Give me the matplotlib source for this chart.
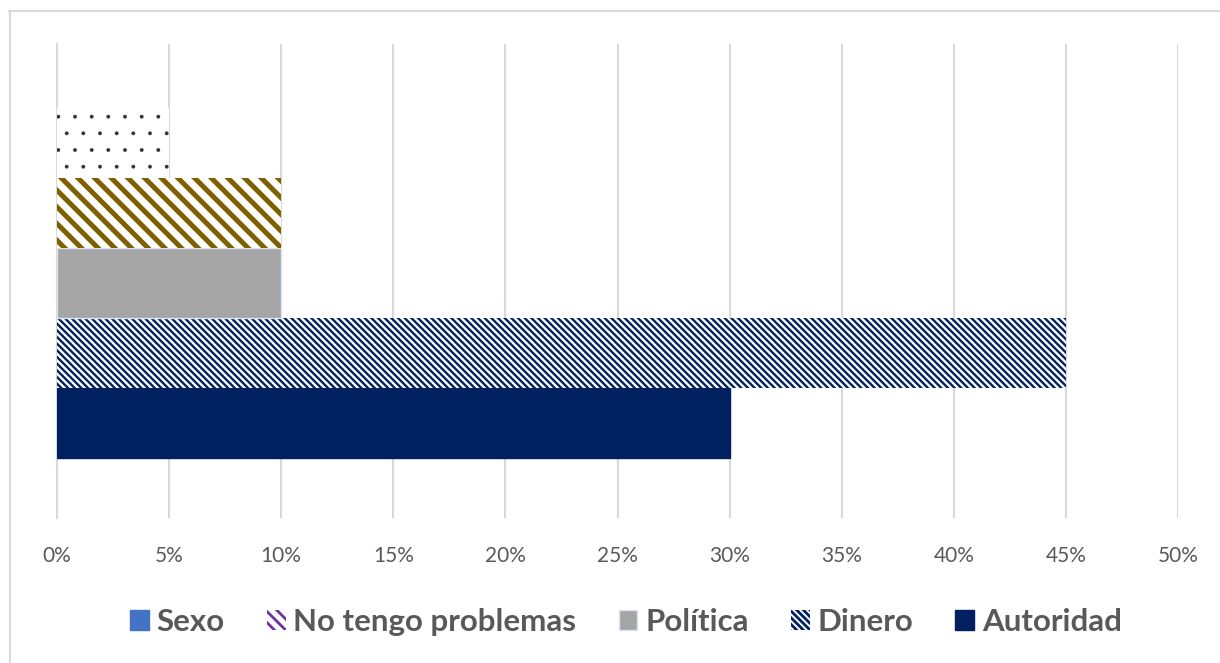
import matplotlib
matplotlib.use("Agg")
import matplotlib.pyplot as plt
from matplotlib.patches import Patch
from matplotlib.lines import Line2D
from matplotlib.ticker import FuncFormatter

# ---- data ----
series = ["Autoridad", "Dinero", "Política", "No tengo problemas", "Sexo"]  # bottom -> top
values = [0.30, 0.45, 0.10, 0.10, 0.05]
legend_order = ["Sexo", "No tengo problemas", "Política", "Dinero", "Autoridad"]
xticks = [0, 0.05, 0.10, 0.15, 0.20, 0.25, 0.30, 0.35, 0.40, 0.45, 0.50]

# ---- styles ----
bar_style = {
    "Autoridad": dict(facecolor="#002060", edgecolor="#002060", hatch=None, hlw=None),
    "Dinero": dict(facecolor="white", edgecolor="#002060", hatch="\\" * 5, hlw=1.7),
    "Política": dict(facecolor="#A5A5A5", edgecolor="#DAE3F3", hatch=None, hlw=None),
    "No tengo problemas": dict(facecolor="white", edgecolor="#7F6000", hatch="\\" * 2, hlw=3.6),
    "Sexo": dict(facecolor="white", edgecolor="#303030", hatch=".", hlw=0.3),
}

fig = plt.figure(figsize=(12.2, 6.63), dpi=100)
ax = fig.add_axes([57 / 1220, 1 - 518 / 663, (1178 - 57) / 1220, (518 - 44) / 663])

for i, (name, v) in enumerate(zip(series, values)):
    st = bar_style[name]
    if st["hatch"]:
        plt.rcParams["hatch.linewidth"] = st["hlw"]
    b = ax.barh(i, v, height=1.0, align="edge", color=st["facecolor"],
                edgecolor=st["edgecolor"],
                linewidth=0 if st["hatch"] else 1.0, hatch=st["hatch"], zorder=3)
    for p in b:
        if st["hatch"]:
            try:
                p.set_hatch_linewidth(st["hlw"])
            except Exception:
                pass

ax.set_xlim(0, 0.5)
ax.set_ylim(-60 / 70, (518 - 44 - 60) / 70)
ax.set_xticks(xticks)
ax.xaxis.set_major_formatter(FuncFormatter(lambda x, p: f"{x*100:.0f}%"))
ax.set_yticks([])
ax.grid(axis="x", color="#D9D9D9", linewidth=1.5, zorder=0)
ax.set_axisbelow(True)
for s in ["top", "right", "bottom"]:
    ax.spines[s].set_visible(False)
ax.spines["left"].set_color("#D9D9D9")
ax.spines["left"].set_linewidth(1.5)
ax.tick_params(axis="x", length=0, pad=20, labelsize=15, labelcolor="#595959")
for lbl in ax.get_xticklabels():
    lbl.set_fontfamily("Lato")

# legend
plt.rcParams["hatch.linewidth"] = 2.0
handles = {
    "Sexo": Patch(facecolor="#4472C4", edgecolor="#4472C4"),
    "No tengo problemas": Patch(facecolor="white", edgecolor="#7030A0", hatch="\\" * 3, linewidth=0),
    "Política": Patch(facecolor="#A5A5A5", edgecolor="#DAE3F3", linewidth=1.0),
    "Dinero": Patch(facecolor="white", edgecolor="#002060", hatch="\\" * 5, linewidth=0),
    "Autoridad": Patch(facecolor="#002060", edgecolor="#002060"),
}
leg = fig.legend([handles[n] for n in legend_order], legend_order, loc="center",
                 bbox_to_anchor=(0.513, 1 - 622 / 663), ncol=5, frameon=False,
                 prop={"family": "Lato", "weight": "bold", "size": 22.5},
                 handlelength=0.6, handleheight=0.6, handletextpad=0.25, columnspacing=1.35)
for t in leg.get_texts():
    t.set_color("#595959")

# outer frame lines (top & left)
fig.add_artist(Line2D([9 / 1220, 1.0], [1 - 11 / 663, 1 - 11 / 663], color="#D9D9D9", lw=1.5,
                      transform=fig.transFigure))
fig.add_artist(Line2D([10 / 1220, 10 / 1220], [0, 1 - 11 / 663], color="#D9D9D9", lw=1.5,
                      transform=fig.transFigure))

fig.savefig("out.png", dpi=100)
